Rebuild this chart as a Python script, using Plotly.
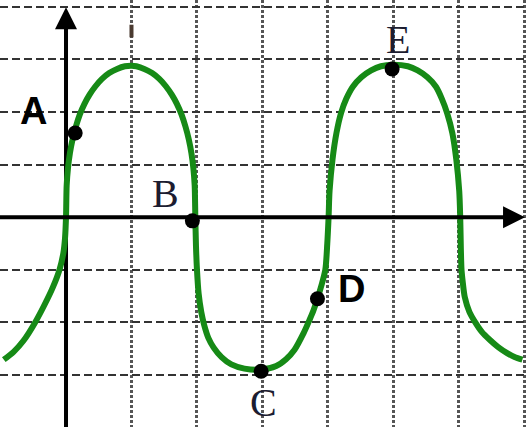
import plotly.graph_objects as go

# curve (grid units: 1 per square)
curve_x = [-0.95, -0.80, -0.65, -0.48, -0.33, -0.20, -0.10, -0.04, -0.015, 0.0,
           0.01, 0.03, 0.06, 0.10, 0.15, 0.21, 0.28, 0.36, 0.45, 0.55, 0.66, 0.78, 0.90, 1.00,
           1.075, 1.195, 1.315, 1.425, 1.525, 1.615, 1.695, 1.765, 1.825, 1.875, 1.915, 1.945,
           1.965, 1.975,
           1.985, 2.00, 2.025, 2.065, 2.11, 2.175, 2.255, 2.375, 2.525, 2.725, 2.97,
           3.21, 3.36, 3.49, 3.63, 3.72, 3.78, 3.84, 3.90, 3.96, 3.99, 4.01,
           4.025, 4.07, 4.13, 4.20, 4.28, 4.38, 4.51, 4.66, 4.81, 4.99,
           5.22, 5.37, 5.52, 5.65, 5.74, 5.82, 5.90, 5.96, 6.005, 6.02,
           6.03, 6.04, 6.06, 6.09, 6.16, 6.25, 6.35, 6.47, 6.60, 6.73, 6.85, 6.97]
curve_y = [-2.71, -2.56, -2.35, -2.02, -1.67, -1.33, -1.00, -0.68, -0.40, 0.0,
           0.60, 0.93, 1.22, 1.48, 1.72, 1.95, 2.15, 2.33, 2.49, 2.63, 2.74, 2.82, 2.87, 2.88,
           2.87, 2.82, 2.74, 2.63, 2.49, 2.33, 2.15, 1.95, 1.72, 1.48, 1.22, 0.93,
           0.60, 0.0,
           -0.55, -1.00, -1.45, -1.80, -2.05, -2.30, -2.48, -2.66, -2.80, -2.88, -2.90,
           -2.83, -2.70, -2.52, -2.20, -1.95, -1.77, -1.55, -1.30, -1.00, -0.50, 0.0,
           0.50, 1.10, 1.60, 1.98, 2.25, 2.48, 2.66, 2.79, 2.87, 2.90,
           2.87, 2.79, 2.66, 2.48, 2.25, 1.98, 1.60, 1.10, 0.50, 0.0,
           -0.60, -1.00, -1.25, -1.52, -1.80, -2.00, -2.18, -2.33, -2.47, -2.58, -2.66, -2.71]

# labelled points
pt_names = ['A', 'B', 'C', 'D', 'E']
pt_x = [0.14, 1.93, 2.98, 3.84, 4.98]
pt_y = [1.60, -0.07, -2.93, -1.55, 2.82]

# label positions
lab_x = [-0.49, 1.52, 3.02, 4.36, 5.07]
lab_y = [2.01, 0.45, -3.53, -1.36, 3.38]

fig = go.Figure()

fig.add_trace(go.Scatter(x=curve_x, y=curve_y, mode='lines',
                         line=dict(color='#168a16', width=6, shape='spline', smoothing=0.8),
                         hoverinfo='skip'))
fig.add_trace(go.Scatter(x=pt_x, y=pt_y, mode='markers',
                         marker=dict(color='black', size=15), hoverinfo='skip'))

# labels: A and D bold sans, B C E serif
for name, lx, ly in zip(pt_names, lab_x, lab_y):
    if name in ('A', 'D'):
        f = dict(family='Liberation Sans', size=38, color='black')
        txt = '<b>' + name + '</b>'
    else:
        f = dict(family='Liberation Serif', size=40, color='#1c1c30')
        txt = name
    fig.add_annotation(x=lx, y=ly, xref='x', yref='y', text=txt, showarrow=False, font=f)

# y axis (under the curve)
fig.add_shape(type='line', x0=0, x1=0, y0=-4.2, y1=3.6, xref='x', yref='y',
              line=dict(color='black', width=4), layer='between')
fig.add_annotation(x=0, y=3.99, ax=0, ay=2.6, xref='x', yref='y', axref='x', ayref='y',
                   text='', showarrow=True, arrowhead=2, arrowsize=1.1, arrowwidth=4,
                   arrowcolor='black', standoff=0)
# x axis (over the curve)
fig.add_annotation(x=7.01, y=0, ax=-1.1, ay=0, xref='x', yref='y', axref='x', ayref='y',
                   text='', showarrow=True, arrowhead=2, arrowsize=1.1, arrowwidth=4,
                   arrowcolor='black', standoff=0)

# small dark mark on the grid line near the top
fig.add_shape(type='line', x0=1, x1=1, y0=3.42, y1=3.66, xref='x', yref='y',
              line=dict(color='#4a3a30', width=4))

fig.update_layout(
    width=527, height=427,
    margin=dict(l=0, r=0, t=0, b=0),
    paper_bgcolor='white', plot_bgcolor='white',
    showlegend=False,
    xaxis=dict(range=[-1.008, 7.04], tickvals=[1, 2, 3, 4, 5, 6, 7], showticklabels=False,
               ticks='', showgrid=True, gridcolor='#555555', gridwidth=2.5, griddash='3px,2px',
               zeroline=False, showline=False, fixedrange=True),
    yaxis=dict(range=[-3.99, 4.13], tickvals=[-3, -2, -1, 1, 2, 3, 4], showticklabels=False,
               ticks='', showgrid=True, gridcolor='#333333', gridwidth=1.5, griddash='8px,4px',
               zeroline=False, showline=False, fixedrange=True),
)

# page has a default 8px body margin; drop it so the figure sits at the corner
fig.write_html("out.html", config={'displayModeBar': False},
               post_script="document.body.style.margin='0';document.body.style.overflow='hidden';")
